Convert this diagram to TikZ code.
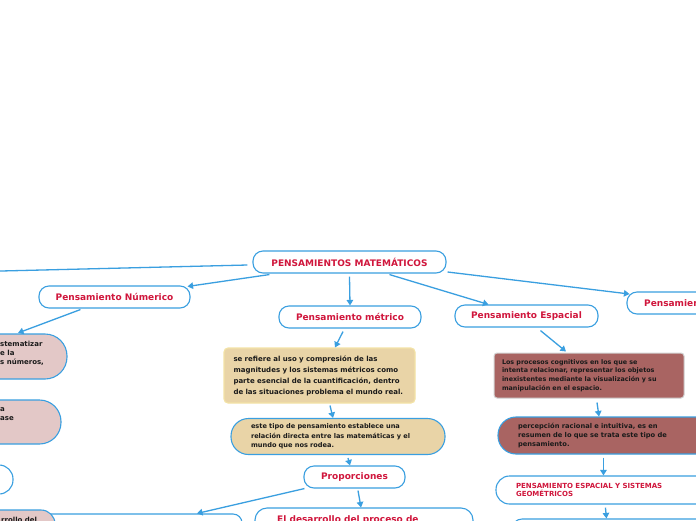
\documentclass[tikz,border=0pt]{standalone}
\usepackage{fontspec}
\setmainfont{DejaVu Sans}
\usetikzlibrary{arrows.meta,calc}
\definecolor{lblue}{HTML}{3A9FE0}
\definecolor{tred}{HTML}{D0163C}
\definecolor{pinkf}{HTML}{E3C8C7}
\definecolor{tanf}{HTML}{E9D4A7}
\definecolor{tanb}{HTML}{F3E3A6}
\definecolor{darkr}{HTML}{A96462}
\definecolor{ink}{HTML}{1A1A1A}
\begin{document}
\begin{tikzpicture}[x=1pt,y=-1pt,
  box/.style={draw=lblue, line width=1.1pt, fill=white, rounded corners=10pt, inner sep=0pt},
  title/.style={text=tred, font=\bfseries\fontsize{9}{10}\selectfont},
  body/.style={text=ink, align=left},
  frag/.style={inner sep=0pt, text=ink, align=left, font=\bfseries\fontsize{7}{9}\selectfont},
  conn/.style={draw=lblue, line width=1.3pt, -{Triangle[length=5.5pt,width=6.5pt]}}]
\useasboundingbox (0,0) rectangle (696,520);
\fill[white] (0,0) rectangle (696,520);

% main and first level
\node[box, title, minimum width=193pt, minimum height=22pt] (root) at (349.5,262) {PENSAMIENTOS MATEMÁTICOS};
\node[box, title, minimum width=151pt, minimum height=22pt] (num) at (114.5,297) {Pensamiento Númerico};
\node[box, title, minimum width=142pt, minimum height=22pt] (met) at (350,317) {Pensamiento métrico};
\node[box, title, minimum width=143pt, minimum height=22pt] (esp) at (526.5,316) {Pensamiento Espacial};
\node[box, minimum width=150pt, minimum height=22pt] (ale) at (702,303) {};
\node[title, anchor=west, inner sep=0pt] (aletxt) at (644,303) {Pensamien};
\coordinate (varend) at (-40,272);

% left column (clipped)
\node[box, fill=pinkf, rounded corners=22pt, minimum width=127pt, minimum height=45pt] (pink1) at (3.5,356.5) {};
\node[frag, anchor=west] (pink1t) at (0,353) {stematizar\\e la\\s números,};
\node[box, fill=pinkf, rounded corners=21.5pt, minimum width=131pt, minimum height=44pt] (pink2) at (-4.5,422) {};
\node[frag, anchor=west] (pink2t) at (0,414) {a\\ase};
\node[box, rounded corners=14pt, minimum width=93pt, minimum height=29pt] (white3) at (-33.5,479.5) {};
\node[box, rounded corners=9pt, minimum width=222pt, minimum height=40pt] (wbox) at (131,534) {};
\node[box, fill=pinkf, rounded corners=14pt, minimum width=115pt, minimum height=40pt] (pink4) at (-2.5,530) {};
\node[frag, anchor=base west] (pink4t) at (1,522) {rrollo del};

% metric column
\node[draw=tanb, line width=1.1pt, fill=tanf, rounded corners=4pt, body,
  font=\bfseries\fontsize{7}{11}\selectfont, text width=172pt, inner xsep=9.5pt, inner ysep=0pt,
  minimum height=55pt] (tan1) at (319.5,375.5)
  {se refiere al uso y compresión de las\\magnitudes y los sistemas métricos como\\parte esencial de la cuantificación, dentro\\de las situaciones problema el mundo real.};
\node[box, fill=tanf, rounded corners=17.5pt, body,
  font=\bfseries\fontsize{6.6}{9.5}\selectfont, text width=174pt, inner xsep=20pt, inner ysep=0pt,
  minimum height=36pt] (tan2) at (338,436.5)
  {este tipo de pensamiento establece una\\relación directa entre las matemáticas y el\\mundo que nos rodea.};
\node[box, title, minimum width=101pt, minimum height=22pt] (prop) at (354.5,477) {Proporciones};
\node[box, rounded corners=12pt, minimum width=218pt, minimum height=50pt] (desar) at (364,533) {};
\node[title, anchor=base west, inner sep=0pt] (desart) at (277,522) {El desarrollo del proceso de};

% spatial column
\node[draw=gray!35, line width=1pt, fill=darkr, rounded corners=3pt, body,
  font=\bfseries\fontsize{6.4}{8.8}\selectfont, text width=174pt, inner xsep=8pt, inner ysep=0pt,
  minimum height=45pt] (dr1) at (589,375.5)
  {Los procesos cognitivos en los que se\\intenta relacionar, representar los objetos\\inexistentes mediante la visualización y su\\manipulación en el espacio.};
\node[box, fill=darkr, rounded corners=18pt, body,
  font=\bfseries\fontsize{6.7}{8.7}\selectfont, text width=222pt, inner xsep=20pt, inner ysep=0pt,
  minimum height=37pt] (dr2) at (629,435.5)
  {percepción racional e intuitiva, es en\\resumen de lo que se trata este tipo de\\pensamiento.};
\node[box, rounded corners=13.5pt, align=left, text=tred,
  font=\bfseries\fontsize{7}{8}\selectfont, text width=224pt, inner xsep=20pt, inner ysep=0pt,
  minimum height=28pt] (espsys) at (628,490)
  {PENSAMIENTO ESPACIAL Y SISTEMAS\\GEOMÉTRICOS};
\node[box, rounded corners=10pt, minimum width=248pt, minimum height=40pt] (brbox) at (636,539) {};

% connectors
\draw[conn] ([shift={(-5,3)}]root.west) -- (varend);
\draw[conn] ([shift={(17,1)}]root.south west) -- ([shift={(-3,1)}]num.north east);
\draw[conn] ([shift={(0,3)}]root.south) -- (met.north);
\draw[conn] ([shift={(137,1)}]root.south west) -- ([shift={(34,0)}]esp.north west);
\draw[conn] ([shift={(1,10)}]root.east) -- ([shift={(3,-9)}]ale.west);
\draw[conn] ([shift={(42,1)}]num.south west) -- ([shift={(14.5,-0.5)}]pink1.north);
\draw[conn] ([shift={(-7,3)}]met.south) -- ([shift={(15.5,0)}]tan1.north);
\draw[conn] ([shift={(10.5,2)}]tan1.south) -- ([shift={(-5,0)}]tan2.north);
\draw[conn] ([shift={(10,3)}]tan2.south) -- ([shift={(-4.5,0)}]prop.north);
\draw[conn] ([shift={(3.5,2)}]prop.south) -- ([shift={(-3,0)}]desar.north);
\draw[conn] ([shift={(1,0)}]prop.south west) -- ([shift={(66,0)}]wbox.north);
\draw[conn] ([shift={(86,3)}]esp.south west) -- ([shift={(-23,-1)}]dr1.north);
\draw[conn] ([shift={(8,4)}]dr1.south) -- ([shift={(-30,0)}]dr2.north);
\draw[conn] ([shift={(106,3)}]dr2.south west) -- ([shift={(108,0)}]espsys.north west);
\draw[conn] ([shift={(110,3)}]espsys.south west) -- ([shift={(95,0)}]brbox.north west);
\end{tikzpicture}
\end{document}
